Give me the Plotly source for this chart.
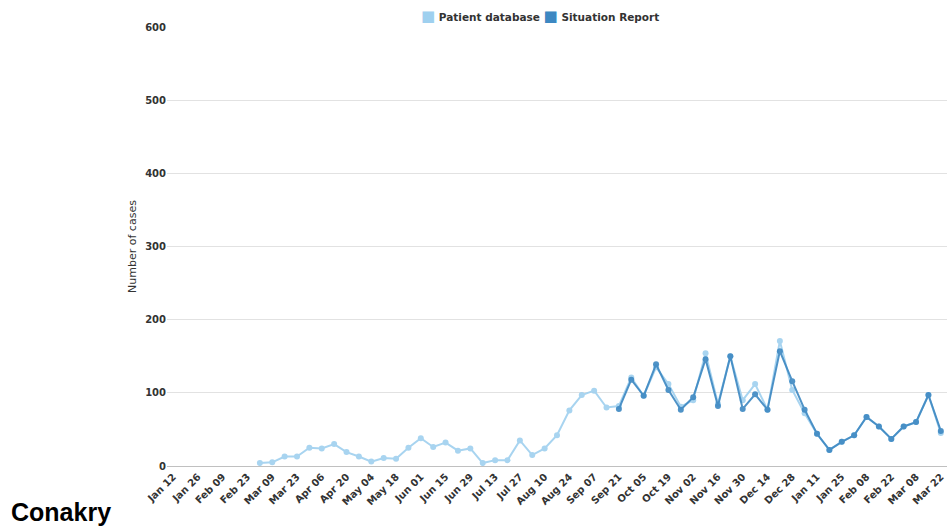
import plotly.graph_objects as go

weeks = ["Jan 12", "Jan 19", "Jan 26", "Feb 02", "Feb 09", "Feb 16", "Feb 23", "Mar 02", "Mar 09", "Mar 16",
         "Mar 23", "Mar 30", "Apr 06", "Apr 13", "Apr 20", "Apr 27", "May 04", "May 11", "May 18", "May 25",
         "Jun 01", "Jun 08", "Jun 15", "Jun 22", "Jun 29", "Jul 06", "Jul 13", "Jul 20", "Jul 27", "Aug 03",
         "Aug 10", "Aug 17", "Aug 24", "Aug 31", "Sep 07", "Sep 14", "Sep 21", "Sep 28", "Oct 05", "Oct 12",
         "Oct 19", "Oct 26", "Nov 02", "Nov 09", "Nov 16", "Nov 23", "Nov 30", "Dec 07", "Dec 14", "Dec 21",
         "Dec 28", "Jan 04", "Jan 11", "Jan 18", "Jan 25", "Feb 01", "Feb 08", "Feb 15", "Feb 22", "Mar 01",
         "Mar 08", "Mar 15", "Mar 22"]
# unique category keys (two years share labels)
cats = [f"{i:02d} {w}" for i, w in enumerate(weeks)]

patient_db = [None, None, None, None, None, None, None,
              4, 5, 13, 13, 25, 24, 30, 19, 13, 6, 11, 10, 25, 38, 26, 32, 21, 24, 4, 8, 8, 35, 15, 24,
              42, 76, 97, 103, 80,
              82, 121, 96, 135, 112, 81, 90, 154, 85, 150, 90, 112, 77, 171, 104, 72, 44, 22, 33, 42,
              67, 54, 37, 54, 60, 97, 45]
sit_report = [None] * 36 + [78, 118, 96, 139, 104, 77, 94, 146, 82, 150, 78, 98, 77, 157, 116, 77, 44, 22,
                            33, 42, 67, 54, 37, 54, 60, 97, 48]

tick_cats = cats[::2]
tick_text = weeks[::2]
y_ticks = [0, 100, 200, 300, 400, 500, 600]

light = "#9fd0ef"
dark = "#3d88c2"

fig = go.Figure()
fig.add_trace(go.Scatter(x=cats, y=patient_db, mode="lines+markers", name="Patient database",
                         line=dict(color=light, width=2), marker=dict(size=6, color=light),
                         opacity=0.9, showlegend=False))
fig.add_trace(go.Scatter(x=cats, y=sit_report, mode="lines+markers", name="Situation Report",
                         line=dict(color=dark, width=2), marker=dict(size=6, color=dark),
                         opacity=0.9, showlegend=False))

legend_text = (f'<span style="color:{light};font-size:15px">■</span> Patient database '
               f'<span style="color:{dark};font-size:15px">■</span> Situation Report')

fig.update_layout(
    width=951, height=526,
    margin=dict(l=167, r=4, t=27, b=60),
    paper_bgcolor="white", plot_bgcolor="white",
    font=dict(family="DejaVu Sans", size=10, color="#333333"),
    showlegend=False,
    xaxis=dict(type="category", categoryorder="array", categoryarray=cats,
               range=[-0.5, len(cats) - 0.5], tickmode="array", tickvals=tick_cats, ticktext=tick_text,
               tickangle=-45, tickfont=dict(family="DejaVu Sans", size=10, color="#333333", weight="bold"),
               showgrid=False, showline=True, linecolor="#c0c0c0", linewidth=1, ticks="", zeroline=False),
    yaxis=dict(range=[0, 600], tickvals=y_ticks, showgrid=True, gridcolor="#e2e2e2", gridwidth=1,
               zeroline=False, showline=False, ticks="",
               tickfont=dict(family="DejaVu Sans", size=10, color="#333333", weight="bold"),
               title=dict(text="Number of cases", font=dict(family="DejaVu Sans", size=11, color="#333333"),
                          standoff=6)),
    annotations=[
        dict(text=legend_text, xref="paper", yref="paper", x=0.478, y=1.025,
             xanchor="center", yanchor="middle", showarrow=False,
             font=dict(family="DejaVu Sans", size=10.5, color="#333333", weight="bold")),
        dict(text="<b>Conakry</b>", xref="paper", yref="paper", x=-0.203, y=-0.104,
             xanchor="left", yanchor="middle", showarrow=False,
             font=dict(family="Liberation Sans", size=25, color="black")),
    ],
)

fig.write_html("out.html", config={"displayModeBar": False},
               post_script="document.body.style.margin='0';document.body.style.overflow='hidden';")
